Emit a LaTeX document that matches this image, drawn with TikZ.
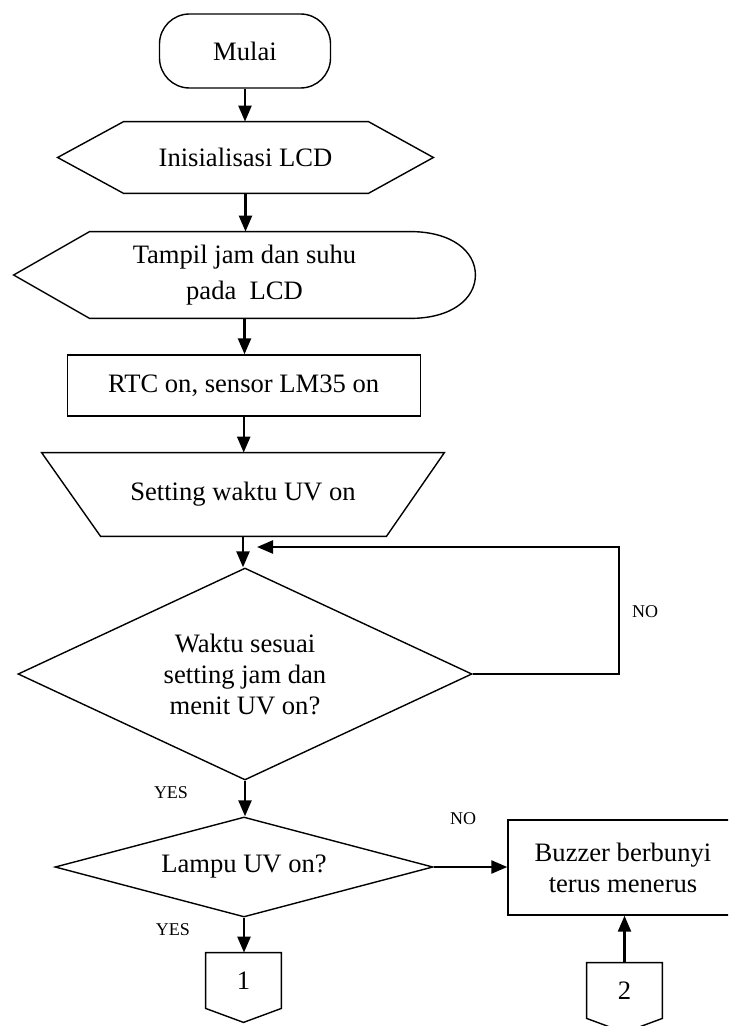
\documentclass[tikz,border=0pt]{standalone}
\usepackage{fontspec}
\setmainfont{Liberation Serif}
\usetikzlibrary{positioning,shapes.geometric,arrows.meta}

\tikzset{
  txt/.style={align=center, font=\fontsize{13.3}{15.5}\selectfont, inner sep=0pt},
  box/.style={txt, draw, line width=0.7pt},
  outline/.style={line width=0.7pt},
  flow/.style={line width=1.2pt, -{Triangle[length=8pt,width=6.5pt]}},
  lbl/.style={font=\fontsize{9}{10}\selectfont, inner sep=0pt}
}

\begin{document}
\begin{tikzpicture}[x=0.5pt, y=-0.5pt]
  \useasboundingbox (0,0) rectangle (728,1026);
  \clip (0,0) rectangle (728,1026);

  % main column
  \node[box, rounded corners=15pt, minimum width=85.5pt, minimum height=37pt] (mulai) at (245,51) {Mulai};

  \node[txt, minimum width=187.5pt, minimum height=35.5pt] (init) at (245.5,157.5) {Inisialisasi LCD};
  \draw[outline] (init.west) -- ([xshift=33pt]init.north west) -- ([xshift=-32.5pt]init.north east) -- (init.east)
    -- ([xshift=-32.5pt]init.south east) -- ([xshift=33pt]init.south west) -- cycle;

  \node[txt, font=\fontsize{13.3}{18}\selectfont, minimum width=230.5pt, minimum height=43pt] (tampil) at (244.5,275) {Tampil jam dan suhu\\pada~~LCD};
  \draw[outline] (tampil.west) -- ([xshift=38pt]tampil.north west) -- ([xshift=-32.5pt]tampil.north east)
    .. controls ([xshift=-12pt]tampil.north east) and ([yshift=12pt]tampil.east) .. (tampil.east)
    .. controls ([yshift=-12pt]tampil.east) and ([xshift=-12pt]tampil.south east) .. ([xshift=-32.5pt]tampil.south east)
    -- ([xshift=38pt]tampil.south west) -- cycle;

  \node[box, minimum width=176.5pt, minimum height=30.5pt] (rtc) at (243.7,385.5) {RTC on, sensor LM35 on};

  \node[txt, minimum width=201pt, minimum height=41.5pt] (setting) at (243,494.5) {Setting waktu UV on};
  \draw[outline] (setting.north west) -- (setting.north east) -- ([xshift=-29pt]setting.south east)
    -- ([xshift=29.5pt]setting.south west) -- cycle;

  \node[box, diamond, aspect=2.14, minimum width=227pt, minimum height=106pt] (waktu) at (245,674) {Waktu sesuai\\setting jam dan\\menit UV on?};

  \node[box, diamond, aspect=3.78, minimum width=189pt, minimum height=50pt] (lampu) at (244,867) {Lampu UV on?};

  \node[box, minimum width=115pt, minimum height=47.5pt] (buzzer) at (623,867.5) {Buzzer berbunyi\\terus menerus};

  % off-page connectors
  \node[txt, minimum width=37.5pt, minimum height=27.5pt] (off1) at (243.5,980.5) {1};
  \draw[outline] (off1.north west) -- (off1.north east) -- (off1.south east) -- ([yshift=-7pt]off1.south)
    -- (off1.south west) -- cycle;
  \node[txt, minimum width=37.5pt, minimum height=27.5pt] (off2) at (624.5,990.5) {2};
  \draw[outline] (off2.north west) -- (off2.north east) -- (off2.south east) -- ([yshift=-7pt]off2.south)
    -- (off2.south west) -- cycle;

  % arrows
  \draw[flow] (mulai.south) -- (mulai.south |- init.north);
  \draw[flow] (init.south) -- (init.south |- tampil.north);
  \draw[flow] (tampil.south) -- (tampil.south |- rtc.north);
  \draw[flow] (rtc.south) -- (rtc.south |- setting.north);
  \draw[flow] (setting.south) -- (setting.south |- waktu.north);
  \draw[flow] (waktu.south) -- (waktu.south |- lampu.north);
  \draw[flow] (lampu.south) -- (lampu.south |- off1.north);
  \draw[flow] (lampu.east) -- (lampu.east -| buzzer.west);
  \draw[flow] (off2.north) -- (off2.north |- buzzer.south);
  \coordinate (loop) at (257,547);
  \draw[flow] (waktu.east) -- ++(146,0) |- (loop);

  % labels
  \node[lbl] (yes1) at (171,793) {YES};
  \node[lbl] (yes2) at (173,930) {YES};
  \node[lbl] (no1) at (645,612) {NO};
  \node[lbl] (no2) at (463,819) {NO};
\end{tikzpicture}
\end{document}
